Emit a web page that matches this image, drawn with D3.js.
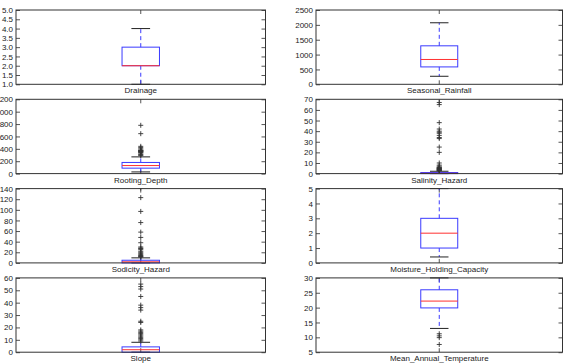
<!DOCTYPE html>
<html>
<head>
<meta charset="utf-8">
<script src="https://cdn.jsdelivr.net/npm/d3@7"></script>
<style>
  body { margin: 0; background: #fff; }
  svg { display: block; }
  text { font-family: "Liberation Sans", Arial, sans-serif; font-size: 8px; fill: #222; }
</style>
</head>
<body>
<svg id="chart" width="567" height="364"></svg>
<script>
// one entry per panel, left column then right column, row by row
var names = ["Drainage", "Seasonal_Rainfall", "Rooting_Depth", "Salinity_Hazard",
             "Sodicity_Hazard", "Moisture_Holding_Capacity", "Slope", "Mean_Annual_Temperature"];
var q1s     = [2,   585,  88,  0,   0,   1,   0,   19.9];
var medians = [2,   835,  130, 0.2, 2,   2,   2,   22.2];
var q3s     = [3,   1295, 180, 1,   5,   3,   4.3, 26];
var loWhisk = [1,   270,  27,  0,   0,   0.4, 0,   13];
var hiWhisk = [4,   2070, 270, 2.2, 9.5, 5,   8,   30];
var fliers = [
  [],
  [],
  [290, 300, 310, 330, 340, 350, 355, 360, 365, 370, 375, 380, 400, 420, 440, 645, 780],
  [2.6, 2.9, 3.2, 3.5, 3.8, 4.1, 4.4, 4.7, 5, 5.3, 5.6, 6, 7, 8, 10, 20, 25, 33, 34, 36, 38, 39, 40, 42, 48, 65, 67],
  [11, 12, 13, 14, 16, 18, 20, 22, 25, 27, 28, 30, 38, 48, 58, 76, 97, 123, 141],
  [],
  [9, 10, 11, 12, 13, 14, 15, 16, 17, 18, 24, 25, 34, 36, 38, 45, 51, 53, 55, 62],
  [11.2, 10.5, 9.9, 7.6]
];
var domains = [[1, 5], [0, 2500], [0, 1200], [0, 70], [0, 140], [0, 5], [0, 60], [5, 30]];
var tickVals = [
  [1, 1.5, 2, 2.5, 3, 3.5, 4, 4.5, 5],
  [0, 500, 1000, 1500, 2000, 2500],
  [0, 200, 400, 600, 800, 1000, 1200],
  [0, 10, 20, 30, 40, 50, 60, 70],
  [0, 20, 40, 60, 80, 100, 120, 140],
  [0, 1, 2, 3, 4, 5],
  [0, 10, 20, 30, 40, 50, 60],
  [5, 10, 15, 20, 25, 30]
];
var tickFmt = [".1f", "d", "d", "d", "d", "d", "d", "d"];

var svg = d3.select("#chart");
var colX = [[16, 265.5], [316, 562.5]];
var top0 = 10, pitch = 89.3, panelH = 74.3;

names.forEach(function(name, i) {
  var col = i % 2, row = Math.floor(i / 2);
  var x0 = colX[col][0], x1 = colX[col][1];
  var y0 = top0 + row * pitch, y1 = y0 + panelH;

  var y = d3.scaleLinear().domain(domains[i]).range([y1, y0]);
  var x = d3.scaleLinear().domain([0.5, 1.5]).range([x0, x1]);
  var cx = x(1);
  var boxW = (x1 - x0) * 0.15;

  var g = svg.append("g");

  // left axis with labels, ticks pointing in
  var left = g.append("g").attr("transform", "translate(" + x0 + ",0)")
    .call(d3.axisLeft(y).tickValues(tickVals[i]).tickFormat(d3.format(tickFmt[i]))
      .tickSizeInner(-4).tickSizeOuter(0).tickPadding(3));
  left.select(".domain").remove();
  left.selectAll("line").attr("stroke", "#555");
  left.selectAll("text").attr("fill", "#222").style("font-size", "8px")
    .style("font-family", '"Liberation Sans", Arial, sans-serif');

  // right side ticks
  var right = g.append("g").attr("transform", "translate(" + x1 + ",0)")
    .call(d3.axisRight(y).tickValues(tickVals[i]).tickFormat("")
      .tickSizeInner(-4).tickSizeOuter(0));
  right.select(".domain").remove();
  right.selectAll("line").attr("stroke", "#555");

  // x ticks at the box position (top and bottom)
  g.append("line").attr("x1", cx).attr("x2", cx).attr("y1", y0).attr("y2", y0 + 4).attr("stroke", "#555");
  g.append("line").attr("x1", cx).attr("x2", cx).attr("y1", y1).attr("y2", y1 - 4).attr("stroke", "#555");

  // whiskers
  g.append("line").attr("x1", cx).attr("x2", cx).attr("y1", y(q3s[i])).attr("y2", y(hiWhisk[i]))
    .attr("stroke", "#3a3aff").attr("stroke-dasharray", "4,3");
  g.append("line").attr("x1", cx).attr("x2", cx).attr("y1", y(q1s[i])).attr("y2", y(loWhisk[i]))
    .attr("stroke", "#3a3aff").attr("stroke-dasharray", "4,3");

  // caps
  [loWhisk[i], hiWhisk[i]].forEach(function(v) {
    g.append("line").attr("x1", cx - boxW / 4).attr("x2", cx + boxW / 4)
      .attr("y1", y(v)).attr("y2", y(v)).attr("stroke", "#222").attr("stroke-width", 1);
  });

  // box
  g.append("rect").attr("x", cx - boxW / 2).attr("width", boxW)
    .attr("y", y(q3s[i])).attr("height", Math.max(0.5, y(q1s[i]) - y(q3s[i])))
    .attr("fill", "none").attr("stroke", "#3a3aff").attr("stroke-width", 1);

  // median
  g.append("line").attr("x1", cx - boxW / 2).attr("x2", cx + boxW / 2)
    .attr("y1", y(medians[i])).attr("y2", y(medians[i])).attr("stroke", "#ff3030");

  // fliers as + markers, clipped to the axes
  var clipId = "clip" + i;
  svg.append("clipPath").attr("id", clipId).append("rect")
    .attr("x", x0).attr("y", y0).attr("width", x1 - x0).attr("height", panelH);
  var fl = g.append("g").attr("clip-path", "url(#" + clipId + ")");
  fliers[i].forEach(function(v) {
    var py = y(v);
    fl.append("path").attr("d", "M" + (cx - 2.5) + "," + py + "H" + (cx + 2.5) + "M" + cx + "," + (py - 2.5) + "V" + (py + 2.5))
      .attr("stroke", "#333").attr("stroke-width", 0.9).attr("fill", "none");
  });

  // frame
  g.append("rect").attr("x", x0).attr("y", y0).attr("width", x1 - x0).attr("height", panelH)
    .attr("fill", "none").attr("stroke", "#333").attr("stroke-width", 1);

  // category label under the axes
  g.append("text").attr("x", cx).attr("y", y1 + 9).attr("text-anchor", "middle").text(name);
});
</script>
</body>
</html>
